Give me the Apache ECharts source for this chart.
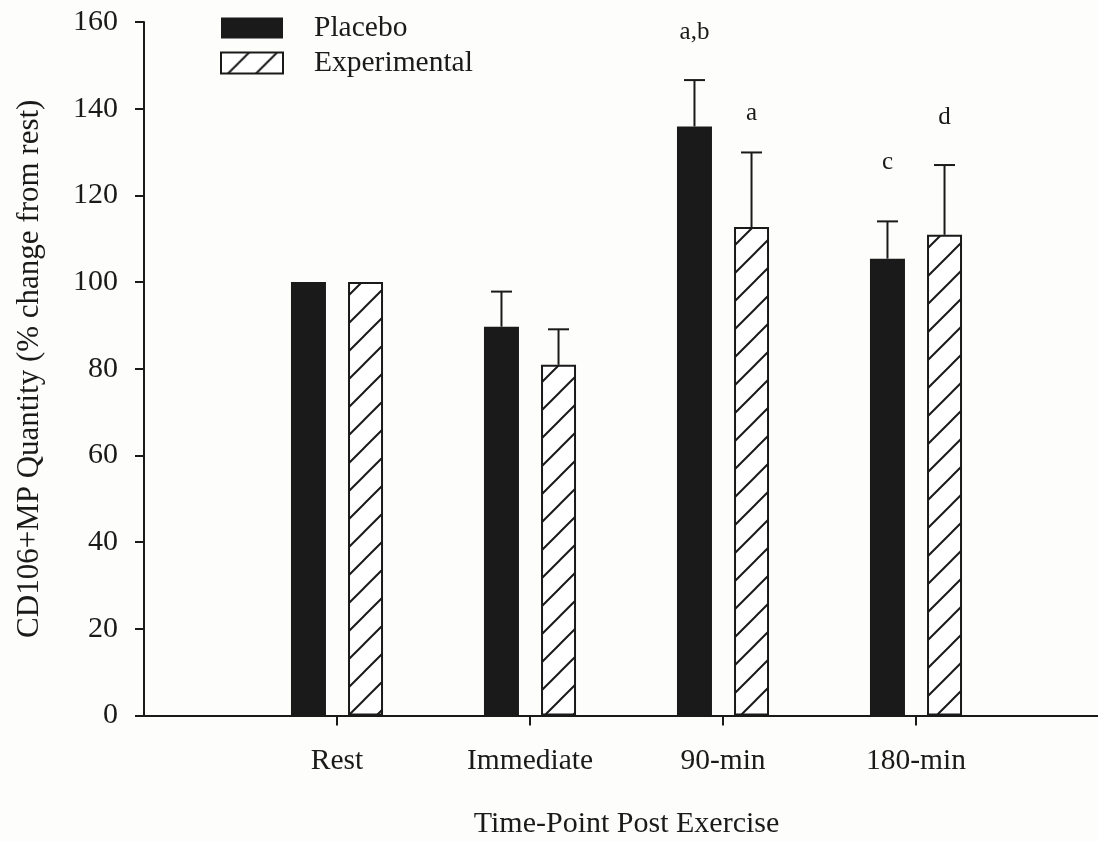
<!DOCTYPE html>
<html>
<head>
<meta charset="utf-8">
<script src="https://cdn.jsdelivr.net/npm/echarts@6/dist/echarts.min.js"></script>
<style>
  html, body { margin: 0; padding: 0; background: #fdfdfb; }
  #chart { width: 1098px; height: 841px; }
</style>
</head>
<body>
<div id="chart"></div>
<script>
// data
var categories = ['Rest', 'Immediate', '90-min', '180-min'];
var placebo = [100, 89.7, 135.9, 105.4];
var placeboErr = [0, 8.1, 10.7, 8.6];
var experimental = [100, 80.9, 112.7, 110.9];
var experimentalErr = [0, 8.2, 17.2, 16.1];
var placeboMarks = ['', '', 'a,b', 'c'];
var placeboMarkY = [0, 0, 157.7, 127.7];
var experimentalMarks = ['', '', 'a', 'd'];
var experimentalMarkY = [0, 0, 139.0, 137.9];
var yTicks = [0, 20, 40, 60, 80, 100, 120, 140, 160];

var FONT = 'Liberation Serif';
var INK = '#1a1a1a';
var BAR_W = 35;
var GAP = 0.63;
var OFFSET = BAR_W * (1 + GAP) / 2;

// padded so the first category sits one band away from the y axis
var axisCats = [''].concat(categories, ['']);

function hatch() {
    var s = 28;
    var c = document.createElement('canvas');
    c.width = s; c.height = s;
    var g = c.getContext('2d');
    g.fillStyle = '#ffffff';
    g.fillRect(0, 0, s, s);
    g.strokeStyle = INK;
    g.lineWidth = 2;
    g.beginPath();
    [0, s, 2 * s].forEach(function (k) {
        g.moveTo(k + 2, -2);
        g.lineTo(k - s - 2, s + 2);
    });
    g.stroke();
    return c;
}

function errData(vals, errs, marks, markY) {
    return vals.map(function (v, i) {
        return [i + 1, v, v + errs[i], errs[i], marks[i], markY[i]];
    });
}

function errRenderer(dx) {
    return function (params, api) {
        var x = api.coord([api.value(0), api.value(1)])[0] + dx;
        var base = api.coord([api.value(0), api.value(1)])[1];
        var top = api.coord([api.value(0), api.value(2)])[1];
        var children = [];
        if (api.value(3) > 0) {
            children.push({
                type: 'line',
                shape: { x1: x, y1: base, x2: x, y2: top },
                style: { stroke: INK, lineWidth: 2 }
            });
            children.push({
                type: 'line',
                shape: { x1: x - 10.5, y1: top, x2: x + 10.5, y2: top },
                style: { stroke: INK, lineWidth: 2 }
            });
        }
        var mark = api.value(4);
        if (mark) {
            var my = api.coord([api.value(0), api.value(5)])[1];
            children.push({
                type: 'text',
                style: {
                    x: x, y: my, text: mark,
                    align: 'center', verticalAlign: 'middle',
                    fill: INK, font: '25px "' + FONT + '"'
                }
            });
        }
        return { type: 'group', children: children };
    };
}

var chart = echarts.init(document.getElementById('chart'));

var option = {
    backgroundColor: '#fdfdfb',
    animation: false,
    textStyle: { fontFamily: FONT, color: INK },
    grid: { left: 144, top: 22, width: 965, height: 693.5, outerBoundsMode: 'none', containLabel: false },
    legend: {
        orient: 'vertical',
        left: 220,
        top: 11,
        padding: 0,
        itemWidth: 62,
        itemHeight: 21,
        itemGap: 1,
        icon: 'rect',
        data: ['Placebo', 'Experimental'],
        textStyle: { fontFamily: FONT, fontSize: 29.5, color: INK, lineHeight: 34, padding: [0, 0, 0, 26] }
    },
    xAxis: {
        type: 'category',
        data: axisCats,
        boundaryGap: false,
        name: 'Time-Point Post Exercise',
        nameLocation: 'middle',
        nameGap: 94,
        nameTextStyle: { fontFamily: FONT, fontSize: 30, color: INK },
        axisLine: { lineStyle: { color: INK, width: 2 } },
        axisTick: {
            length: 10,
            lineStyle: { color: INK, width: 2 },
            interval: function (i) { return i > 0 && i <= categories.length; }
        },
        axisLabel: { fontFamily: FONT, fontSize: 29.5, color: INK, margin: 31, interval: 0 },
        splitLine: { show: false }
    },
    yAxis: {
        type: 'value',
        min: yTicks[0],
        max: yTicks[yTicks.length - 1],
        interval: 20,
        name: 'CD106+MP Quantity (% change from rest)',
        nameLocation: 'middle',
        nameGap: 99,
        nameRotate: 90,
        nameTextStyle: { fontFamily: FONT, fontSize: 31, color: INK },
        axisLine: { show: true, lineStyle: { color: INK, width: 2 } },
        axisTick: { show: true, length: 9, lineStyle: { color: INK, width: 2 } },
        axisLabel: { fontFamily: FONT, fontSize: 30, color: INK, margin: 26 },
        splitLine: { show: false }
    },
    series: [
        {
            name: 'Placebo',
            type: 'bar',
            barWidth: BAR_W,
            barGap: (GAP * 100) + '%',
            data: [null].concat(placebo, [null]),
            itemStyle: { color: INK }
        },
        {
            name: 'Experimental',
            type: 'bar',
            barWidth: BAR_W,
            data: [null].concat(experimental, [null]),
            itemStyle: {
                color: { image: hatch(), repeat: 'repeat' },
                borderColor: INK,
                borderWidth: 2
            }
        },
        {
            type: 'custom',
            renderItem: errRenderer(-OFFSET),
            data: errData(placebo, placeboErr, placeboMarks, placeboMarkY),
            z: 5,
            silent: true
        },
        {
            type: 'custom',
            renderItem: errRenderer(OFFSET),
            data: errData(experimental, experimentalErr, experimentalMarks, experimentalMarkY),
            z: 5,
            silent: true
        }
    ]
};

chart.setOption(option);
</script>
</body>
</html>
